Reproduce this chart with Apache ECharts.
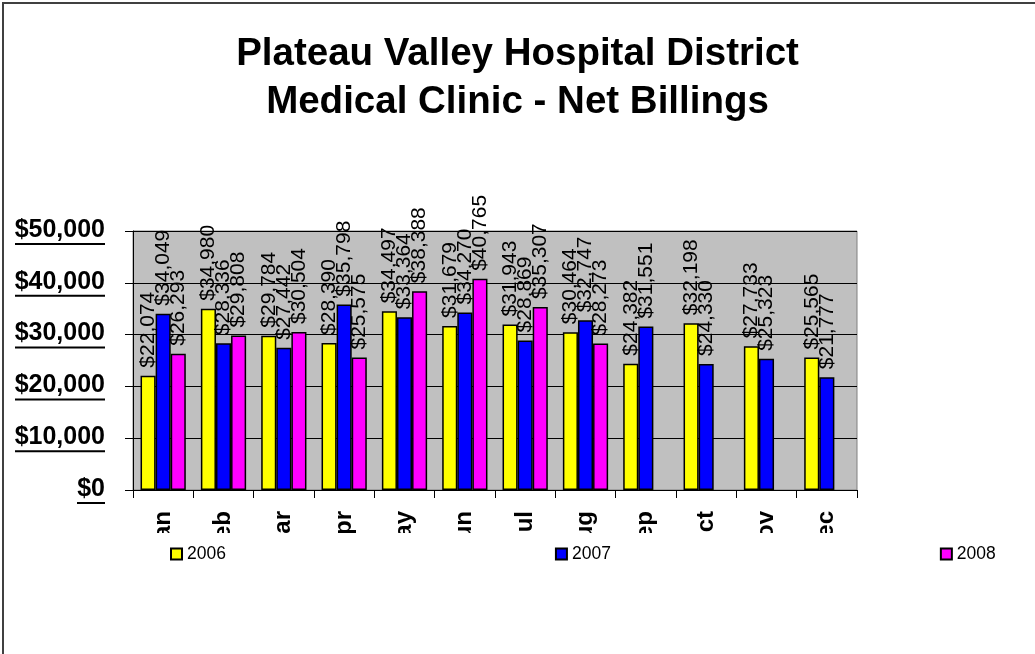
<!DOCTYPE html>
<html>
<head>
<meta charset="utf-8">
<title>Medical Clinic - Net Billings</title>
<script src="https://cdn.jsdelivr.net/npm/echarts@6/dist/echarts.min.js"></script>
<style>
  html, body { margin: 0; padding: 0; background: #fff; }
  #chart { width: 1035px; height: 654px; }
</style>
</head>
<body>
<div id="chart"></div>
<script>
const months = ['Jan', 'Feb', 'Mar', 'Apr', 'May', 'Jun', 'Jul', 'Aug', 'Sep', 'Oct', 'Nov', 'Dec'];
const billings2006 = [22074, 34980, 29784, 28390, 34497, 31679, 31943, 30464, 24382, 32198, 27733, 25565];
const billings2007 = [34049, 28336, 27442, 35798, 33364, 34270, 28869, 32747, 31551, 24330, 25323, 21777];
const billings2008 = [26293, 29808, 30504, 25575, 38388, 40765, 35307, 28273, null, null, null, null];
const yTicks = [0, 10000, 20000, 30000, 40000, 50000];

const FONT = "'Liberation Sans', Arial, sans-serif";

function money(v) {
    return '$' + Number(v).toLocaleString('en-US');
}

// underline widths for the y axis labels (no text-decoration in echarts)
const measure = document.createElement('canvas').getContext('2d');
measure.font = 'bold 25px ' + FONT;
const yRich = { t: { fontSize: 25, fontWeight: 'bold', fontFamily: FONT, color: '#000', lineHeight: 26 } };
yTicks.forEach(function (v, i) {
    yRich['u' + i] = {
        width: Math.round(measure.measureText(money(v)).width),
        height: 2,
        lineHeight: 2,
        backgroundColor: '#000'
    };
});

function barSeries(name, data, color) {
    return {
        name: name,
        type: 'bar',
        data: data,
        barGap: '0%',
        barCategoryGap: '25%',
        itemStyle: { color: color, borderColor: '#000', borderWidth: 1.5 },
        label: {
            show: true,
            position: 'top',
            rotate: 90,
            align: 'left',
            verticalAlign: 'middle',
            distance: 8,
            fontSize: 21,
            fontFamily: FONT,
            color: '#000',
            formatter: function (p) { return money(p.value); }
        }
    };
}

const chart = echarts.init(document.getElementById('chart'));
chart.setOption({
    animation: false,
    backgroundColor: '#fff',
    title: {
        text: 'Plateau Valley Hospital District\nMedical Clinic - Net Billings',
        left: 'center',
        top: 30,
        padding: 0,
        textStyle: { fontSize: 38.5, fontWeight: 'bold', fontFamily: FONT, color: '#000', lineHeight: 48 }
    },
    legend: {
        data: ['2006', '2007', '2008'],
        left: 165,
        top: 540,
        icon: 'rect',
        itemWidth: 11,
        itemHeight: 11,
        itemGap: 329,
        textStyle: { fontSize: 17.5, fontFamily: FONT, color: '#000' }
    },
    grid: {
        left: 133,
        right: 178,
        top: 231,
        bottom: 164,
        show: true,
        backgroundColor: '#C0C0C0',
        borderColor: '#808080',
        borderWidth: 1
    },
    xAxis: {
        type: 'category',
        data: months,
        axisLine: { lineStyle: { color: '#000', width: 1 } },
        axisTick: { show: true, length: 8, lineStyle: { color: '#000' } },
        axisLabel: {
            rotate: 90,
            margin: 21,
            fontSize: 24,
            fontWeight: 'bold',
            fontFamily: FONT,
            color: '#000'
        }
    },
    yAxis: {
        type: 'value',
        min: 0,
        max: 50000,
        interval: 10000,
        axisLine: { show: true, lineStyle: { color: '#000', width: 1 } },
        axisTick: { show: true, length: 8, lineStyle: { color: '#000' } },
        splitLine: { lineStyle: { color: '#000', width: 1 } },
        axisLabel: {
            margin: 28,
            align: 'right',
            formatter: function (v) {
                const i = yTicks.indexOf(v);
                return '{t|' + money(v) + '}\n{u' + i + '| }';
            },
            rich: yRich
        }
    },
    graphic: [
        {
            type: 'rect',
            z: 0,
            shape: { x: 3, y: 3, width: 1200, height: 1000 },
            style: { fill: 'none', stroke: '#404040', lineWidth: 2 }
        },
        {
            // month names are cut off under the axis in the original
            type: 'rect',
            z: 3,
            shape: { x: 120, y: 533, width: 760, height: 40 },
            style: { fill: '#fff' }
        }
    ],
    series: [
        barSeries('2006', billings2006, '#FFFF00'),
        barSeries('2007', billings2007, '#0000FF'),
        barSeries('2008', billings2008, '#FF00FF')
    ]
});
</script>
</body>
</html>
